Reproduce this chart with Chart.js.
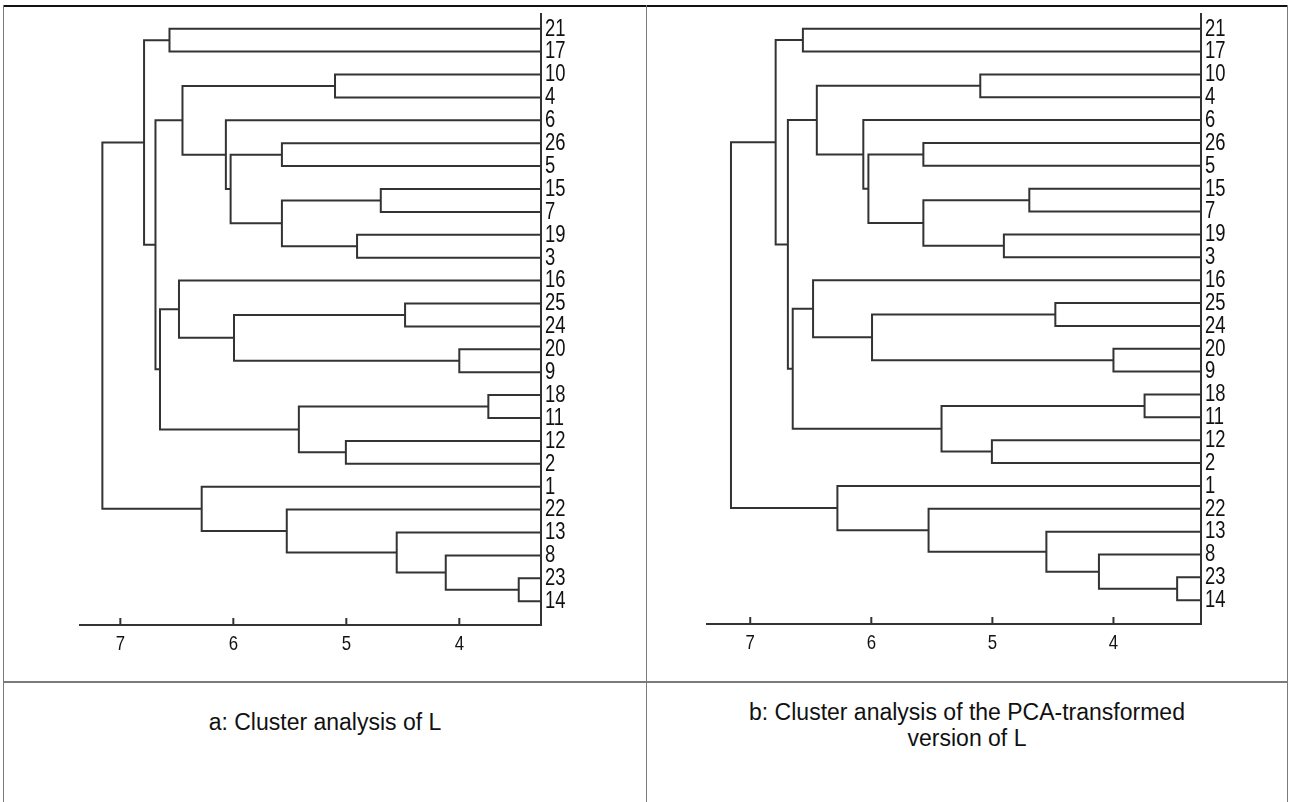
<!DOCTYPE html>
<html>
<head>
<meta charset="utf-8">
<title>Cluster analysis of L</title>
<script src="https://cdn.jsdelivr.net/npm/chart.js@4.4.1/dist/chart.umd.min.js"></script>
<style>
    html, body { margin: 0; padding: 0; background: #fff; }
    #page {
        position: relative;
        width: 1290px;
        height: 802px;
        overflow: hidden;
        font-family: "Liberation Sans", Arial, sans-serif;
    }
    #page canvas { position: absolute; top: 0; }
    .rule { position: absolute; background: #7a7a7a; }
    .caption {
        position: absolute;
        text-align: center;
        font-size: 23px;
        line-height: 26px;
        color: #111;
    }
</style>
</head>
<body>
<div id="page">
    <!-- table borders -->
    <div class="rule" style="left:3px;top:5px;width:1285px;height:2px;background:#111"></div>
    <div class="rule" style="left:3px;top:5px;width:1px;height:797px"></div>
    <div class="rule" style="left:646px;top:5px;width:1px;height:797px"></div>
    <div class="rule" style="left:1287px;top:5px;width:1px;height:797px"></div>
    <div class="rule" style="left:3px;top:681px;width:1285px;height:2px"></div>

    <canvas id="chartA" width="646" height="682" style="left:0"></canvas>
    <canvas id="chartB" width="640" height="682" style="left:647px"></canvas>

    <div class="caption" style="left:4px;width:642px;top:709px">a: Cluster analysis of L</div>
    <div class="caption" style="left:647px;width:640px;top:699px">b: Cluster analysis of the PCA-transformed<br>version of L</div>
</div>

<script>
/* ======================
   DATA
====================== */
// leaves, top to bottom
const leafLabels = ["21", "17", "10", "4", "6", "26", "5", "15", "7", "19", "3", "16", "25",
                    "24", "20", "9", "18", "11", "12", "2", "1", "22", "13", "8", "23", "14"];

// merges: children are leaf labels or "m<k>" (k-th merge), height = linkage distance
const mergeLeft   = ["21", "10", "15", "19", "m2", "26", "m5", "6", "m1", "25", "20", "m9", "16",
                     "18", "12", "m13", "m12", "m8", "m0", "23", "8", "13", "22", "1", "m18"];
const mergeRight  = ["17", "4", "7", "3", "m3", "5", "m4", "m6", "m7", "24", "9", "m10", "m11",
                     "11", "2", "m14", "m15", "m16", "m17", "14", "m19", "m20", "m21", "m22", "m23"];
const mergeHeight = [6.565, 5.10, 4.695, 4.905, 5.57, 5.57, 6.024, 6.066, 6.45, 4.48, 4.00, 5.994, 6.481,
                     3.743, 5.004, 5.42, 6.649, 6.689, 6.79, 3.474, 4.12, 4.554, 5.527, 6.28, 7.159];

const xTickValues = [7, 6, 5, 4];
const xRange = { min: 3.277, max: 7.357 };

const lineColor = "#333";
const textColor = "#111";
const fontFamily = "'Liberation Sans', Arial, sans-serif";

/* ======================
   TREE -> LINE DATASETS
====================== */
function buildDatasets() {
    const pos = {};
    const height = {};
    leafLabels.forEach((l, i) => { pos[l] = i; height[l] = xRange.min; });

    const datasets = [];
    mergeHeight.forEach((h, k) => {
        const a = mergeLeft[k];
        const b = mergeRight[k];
        const id = "m" + k;
        pos[id] = (pos[a] + pos[b]) / 2;
        height[id] = h;
        datasets.push({
            data: [
                { x: height[a], y: pos[a] },
                { x: h, y: pos[a] },
                { x: h, y: pos[b] },
                { x: height[b], y: pos[b] },
            ],
            borderColor: lineColor,
            borderWidth: 2,
            pointRadius: 0,
            tension: 0,
            fill: false,
        });
    });
    return datasets;
}

// small tick marks pointing up into the plot
const innerTicks = {
    id: "innerTicks",
    afterDraw(chart) {
        const x = chart.scales.x;
        const bottom = chart.chartArea.bottom;
        const ctx = chart.ctx;
        ctx.save();
        ctx.strokeStyle = lineColor;
        ctx.lineWidth = 2;
        x.ticks.forEach(t => {
            const px = x.getPixelForValue(t.value);
            ctx.beginPath();
            ctx.moveTo(px, bottom);
            ctx.lineTo(px, bottom - 7);
            ctx.stroke();
        });
        ctx.restore();
    }
};

// tick labels in a narrow (horizontally squeezed) face, like the original
const condensedLabels = {
    id: "condensedLabels",
    afterDraw(chart) {
        const { x, y } = chart.scales;
        const ctx = chart.ctx;
        ctx.save();
        ctx.fillStyle = textColor;
        ctx.textBaseline = "middle";

        ctx.font = "23px " + fontFamily;
        ctx.textAlign = "left";
        y.ticks.forEach(t => {
            ctx.save();
            ctx.translate(y.left + 4, y.getPixelForValue(t.value) + 0.5);
            ctx.scale(0.8, 1);
            ctx.fillText(leafLabels[t.value], 0, 0);
            ctx.restore();
        });

        ctx.font = "21px " + fontFamily;
        ctx.textAlign = "center";
        x.ticks.forEach(t => {
            ctx.save();
            ctx.translate(x.getPixelForValue(t.value), x.top + 19);
            ctx.scale(0.8, 1);
            ctx.fillText(String(t.value), 0, 0);
            ctx.restore();
        });
        ctx.restore();
    }
};

/* ======================
   CHARTS
====================== */
function makeDendrogram(canvasId, area) {
    const canvas = document.getElementById(canvasId);
    const w = canvas.width;
    const h = canvas.height;

    return new Chart(canvas, {
        type: "line",
        data: { datasets: buildDatasets() },
        plugins: [innerTicks, condensedLabels],
        options: {
            responsive: false,
            animation: false,
            layout: { padding: { left: area.left, top: area.top, right: 0, bottom: 0 } },
            plugins: { legend: { display: false }, tooltip: { enabled: false } },
            scales: {
                x: {
                    type: "linear",
                    reverse: true,
                    min: xRange.min,
                    max: xRange.max,
                    afterBuildTicks: s => { s.ticks = xTickValues.map(v => ({ value: v })); },
                    afterFit: s => { s.height = h - area.bottom; },
                    grid: { display: false, drawTicks: false },
                    border: { display: true, color: lineColor, width: 2 },
                    ticks: { display: false },
                },
                y: {
                    type: "linear",
                    position: "right",
                    reverse: true,
                    min: -0.642,
                    max: 26.04,
                    afterBuildTicks: s => { s.ticks = leafLabels.map((_, i) => ({ value: i })); },
                    afterFit: s => { s.width = w - area.right; },
                    grid: { display: false, drawTicks: false },
                    border: { display: true, color: lineColor, width: 2 },
                    ticks: { display: false },
                },
            },
        },
    });
}

document.addEventListener("DOMContentLoaded", function () {
    makeDendrogram("chartA", { left: 80, right: 541, top: 14, bottom: 625 });
    makeDendrogram("chartB", { left: 60, right: 554, top: 14, bottom: 624 });
});
</script>
</body>
</html>
